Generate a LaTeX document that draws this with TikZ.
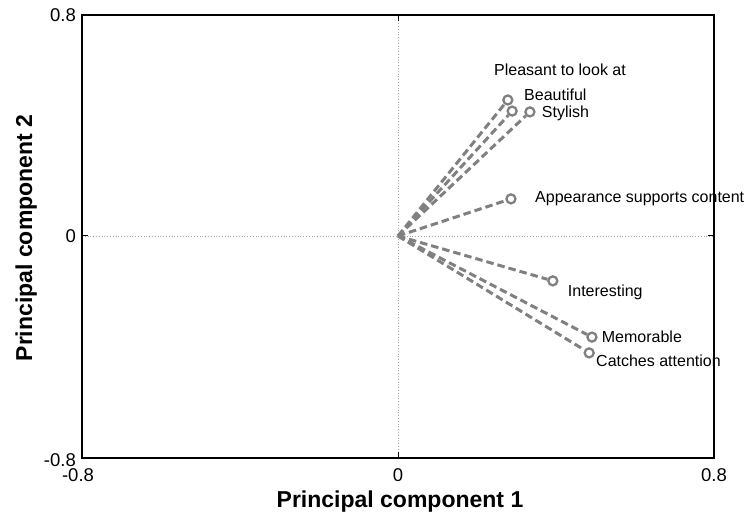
\documentclass[tikz,border=0pt]{standalone}
\usepackage{fontspec}
\setmainfont{Liberation Sans}
\usetikzlibrary{positioning}
\definecolor{vecgray}{RGB}{128,128,128}
\definecolor{axgray}{RGB}{165,165,165}
\tikzset{
    loading/.style = {
        draw=vecgray, line width=3pt,
        dash pattern=on 7.5pt off 4pt
    },
    marker/.style = {
        circle, draw=vecgray, line width=2.3pt,
        minimum size=9pt, inner sep=0pt
    },
    varlabel/.style = {
        anchor=base west, inner sep=0pt,
        font=\fontsize{16}{16}\selectfont
    },
    ticklabel/.style = {
        inner sep=0pt,
        font=\fontsize{18.5}{18.5}\selectfont
    },
    axislabel/.style = {
        inner sep=0pt,
        font=\fontsize{23}{23}\selectfont\bfseries
    },
    zeroline/.style = {
        draw=axgray, line width=0.8pt, dotted
    }
}

\begin{document}
\begin{tikzpicture}[x=1pt, y=1pt]
\useasboundingbox (0,0) rectangle (750,515);

% zero lines and frame
\draw [zeroline] (82,279) -- (714,279);
\draw [zeroline] (398,57) -- (398,500);
\draw [line width=1.4pt] (82,57) rectangle (714,500);
\foreach \tx in {82,398,714} {
    \draw [line width=1pt] (\tx,57) -- ++(0,6);
    \draw [line width=1pt] (\tx,500) -- ++(0,-6);
}
\foreach \ty in {57,279,500} {
    \draw [line width=1pt] (82,\ty) -- ++(6,0);
    \draw [line width=1pt] (714,\ty) -- ++(-6,0);
}

% tick labels
\node (yhi) [ticklabel, anchor=east] at (76,500) {0.8};
\node (ymid) [ticklabel, anchor=east] at (76,279) {0};
\node (ylo) [ticklabel, anchor=east] at (76,55) {-0.8};
\node (xlo) [ticklabel, anchor=north] at (78,46.5) {-0.8};
\node (xmid) [ticklabel, anchor=north] at (398,46.5) {0};
\node (xhi) [ticklabel, anchor=north] at (714,46.5) {0.8};

% axis labels
\node (xlabel) [axislabel, anchor=base] at (400,8) {Principal component 1};
\node (ylabel) [axislabel, anchor=base, rotate=90] at (32,277) {Principal component 2};

% loadings
\begin{scope}[shift={(398pt,279pt)}, x=395pt, y=277pt]
\coordinate (o) at (0,0);
\node (pleasant) [marker] at (0.278,0.491) {};
\node (beautiful) [marker] at (0.289,0.451) {};
\node (stylish) [marker] at (0.334,0.448) {};
\node (appear) [marker] at (0.286,0.134) {};
\node (interest) [marker] at (0.392,-0.162) {};
\node (memo) [marker] at (0.491,-0.365) {};
\node (catch) [marker] at (0.484,-0.422) {};
\end{scope}

\foreach \v in {pleasant,beautiful,stylish,appear,interest,memo,catch}
    \draw [loading] (o) -- (\v);

% variable names
\node (pleasantlbl) [varlabel] at (494,439.3) {Pleasant to look at};
\node (beautifullbl) [varlabel] at (524,414.3) {Beautiful};
\node (stylishlbl) [varlabel] at (541.7,397.3) {Stylish};
\node (appearlbl) [varlabel] at (535,312.3) {Appearance supports content};
\node (interestlbl) [varlabel] at (567.7,219) {Interesting};
\node (memolbl) [varlabel] at (601.7,173) {Memorable};
\node (catchlbl) [varlabel] at (596,148.3) {Catches attention};

\end{tikzpicture}
\end{document}
